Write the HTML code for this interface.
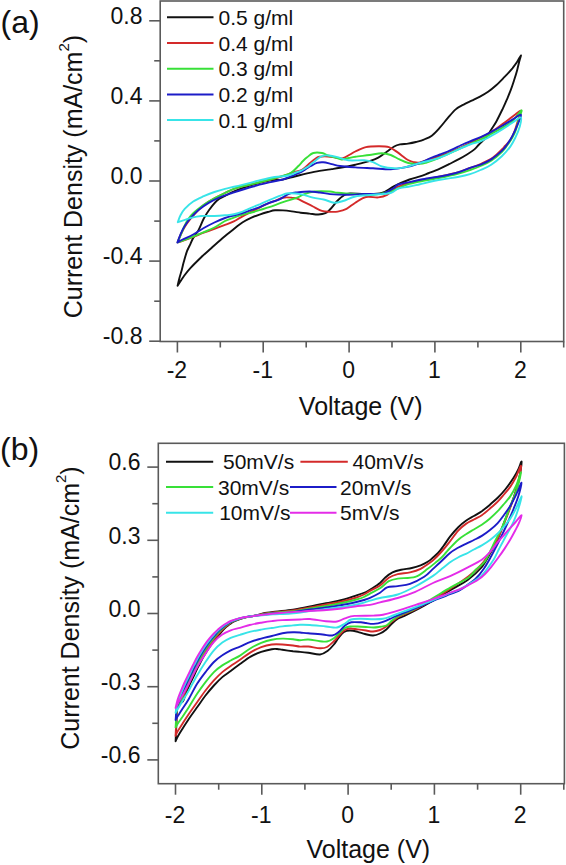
<!DOCTYPE html>
<html><head><meta charset="utf-8"><style>
html,body{margin:0;padding:0;background:#fff;}
body{width:566px;height:865px;overflow:hidden;position:relative;}
svg{position:absolute;left:0;top:0;}
text{font-family:"Liberation Sans",sans-serif;}
</style></head><body>
<svg width="566" height="865" viewBox="0 0 566 865">
<rect width="566" height="865" fill="#fff"/>
<path d="M177.6 285.7 C177.9 284.4 178.8 280.3 179.5 277.7 C180.2 275.1 181.0 272.9 181.7 270.3 C182.4 267.7 182.9 265.0 183.8 261.8 C184.7 258.6 185.9 254.2 187.0 251.2 C188.1 248.2 189.5 246.0 190.5 243.8 C191.5 241.6 191.9 240.3 193.2 238.0 C194.5 235.7 196.7 233.3 198.5 230.1 C200.3 226.8 202.0 221.8 203.8 218.5 C205.6 215.2 206.9 213.0 209.1 210.0 C211.3 207.0 214.4 202.8 217.1 200.5 C219.8 198.2 222.0 197.6 225.0 196.0 C228.0 194.4 230.6 192.8 235.3 190.9 C240.0 189.0 247.1 186.5 253.0 184.7 C258.9 182.9 265.8 181.2 270.7 180.3 C275.6 179.5 278.4 180.2 282.4 179.6 C286.4 179.0 290.6 177.5 294.7 176.5 C298.8 175.5 303.0 174.3 307.1 173.4 C311.2 172.5 315.4 171.6 319.5 170.9 C323.6 170.2 328.4 169.6 331.8 169.1 C335.2 168.6 336.1 168.5 340.0 167.8 C343.9 167.1 350.4 165.8 355.3 164.7 C360.2 163.6 365.7 162.4 369.5 161.2 C373.3 160.0 375.4 159.3 378.3 157.7 C381.2 156.1 384.5 153.4 387.1 151.5 C389.8 149.6 392.1 147.7 394.2 146.5 C396.3 145.3 397.7 144.9 400.0 144.4 C402.3 143.9 405.4 144.0 408.0 143.6 C410.6 143.2 413.2 142.7 415.9 142.0 C418.5 141.3 421.2 140.7 423.9 139.6 C426.5 138.5 429.1 137.7 431.8 135.7 C434.5 133.7 437.2 130.6 439.8 127.7 C442.4 124.8 445.1 121.2 447.7 118.2 C450.3 115.2 453.0 111.7 455.7 109.4 C458.4 107.1 461.0 106.0 463.6 104.6 C466.2 103.1 468.9 102.0 471.6 100.7 C474.3 99.4 477.2 98.1 480.0 96.6 C482.8 95.1 485.4 93.7 488.1 91.8 C490.8 89.9 493.5 87.7 496.2 85.3 C498.9 82.9 501.6 80.0 504.3 77.2 C507.0 74.4 510.2 70.9 512.4 68.3 C514.5 65.7 515.8 63.9 517.2 61.8 C518.6 59.6 520.5 55.7 520.9 55.4 C521.3 55.1 520.2 57.8 519.6 60.2 C519.0 62.6 518.1 66.5 517.2 69.9 C516.3 73.3 515.1 77.1 514.0 80.5 C512.9 83.9 511.9 87.0 510.7 90.2 C509.5 93.4 508.0 96.8 506.7 99.9 C505.4 103.0 504.4 105.2 502.7 108.8 C501.0 112.3 498.4 117.7 496.5 121.2 C494.6 124.7 492.8 127.1 491.2 129.7 C489.6 132.2 488.2 134.8 487.0 136.5 C485.8 138.2 485.4 138.4 484.1 139.7 C482.8 141.0 480.6 142.9 479.0 144.5 C477.4 146.1 476.4 147.7 474.4 149.4 C472.4 151.1 469.6 152.9 467.0 154.5 C464.4 156.1 461.9 157.6 458.9 159.2 C455.9 160.8 452.2 162.6 449.0 164.2 C445.8 165.8 442.7 167.4 439.4 168.9 C436.1 170.4 432.2 171.8 429.0 173.0 C425.8 174.2 423.2 175.3 420.0 176.4 C416.8 177.5 413.8 177.9 409.5 179.5 C405.2 181.1 398.8 183.9 394.2 186.2 C389.6 188.4 386.5 191.7 381.8 193.0 C377.1 194.3 371.3 193.9 366.0 194.0 C360.7 194.1 353.6 193.3 350.0 193.5 C346.4 193.7 346.6 193.8 344.5 195.0 C342.4 196.2 340.1 198.1 337.7 200.5 C335.3 202.9 332.1 207.4 330.0 209.5 C327.9 211.6 327.3 212.4 325.4 213.2 C323.4 214.0 320.9 214.4 318.3 214.5 C315.7 214.6 312.4 213.9 309.5 213.6 C306.6 213.3 303.6 213.1 300.7 212.7 C297.8 212.3 294.8 211.8 291.8 211.4 C288.9 211.0 285.8 210.6 283.0 210.4 C280.2 210.2 277.3 210.1 275.0 210.3 C272.7 210.5 271.6 210.9 269.2 211.6 C266.8 212.3 263.2 213.3 260.3 214.3 C257.4 215.3 254.4 216.3 251.5 217.6 C248.6 218.9 245.8 220.3 242.7 222.3 C239.6 224.3 236.4 227.0 233.0 229.7 C229.6 232.3 225.9 235.2 222.4 238.2 C218.9 241.2 215.3 244.5 211.8 247.7 C208.3 250.9 204.7 253.8 201.2 257.2 C197.7 260.6 193.5 264.7 190.6 267.8 C187.7 270.9 186.2 273.0 184.0 276.0 C181.8 279.0 178.7 284.1 177.6 285.7" stroke="#111111" stroke-width="1.90" fill="none" stroke-linejoin="round" stroke-linecap="round"/>
<path d="M177.7 242.3 C178.2 240.9 179.8 236.6 181.0 234.0 C182.2 231.4 183.5 228.9 185.0 226.5 C186.5 224.1 188.2 221.8 190.0 219.5 C191.8 217.2 193.7 214.9 196.0 212.5 C198.3 210.1 200.7 207.4 203.8 205.0 C206.9 202.6 210.9 200.3 214.4 198.3 C217.9 196.3 221.5 194.7 225.0 193.0 C228.5 191.3 230.6 189.8 235.3 188.3 C240.0 186.8 247.1 185.4 253.0 183.9 C258.9 182.4 266.0 180.7 270.7 179.5 C275.4 178.3 277.5 177.8 281.2 176.6 C284.9 175.4 289.5 173.7 293.0 172.5 C296.5 171.3 299.6 171.1 302.4 169.5 C305.2 167.9 307.9 164.8 310.0 163.0 C312.1 161.2 313.4 160.0 315.0 159.0 C316.6 158.0 317.2 157.2 319.4 156.8 C321.6 156.4 325.2 156.3 328.0 156.5 C330.8 156.7 333.5 157.4 336.0 157.7 C338.5 158.0 340.7 158.7 343.0 158.2 C345.3 157.7 347.9 155.6 350.0 154.5 C352.1 153.4 352.7 152.7 355.3 151.5 C357.9 150.3 362.1 148.0 365.9 147.1 C369.7 146.2 374.5 146.2 378.3 146.2 C382.1 146.2 385.7 146.1 388.9 147.1 C392.1 148.1 395.3 150.8 397.7 152.4 C400.1 154.0 401.3 155.2 403.0 156.5 C404.7 157.8 406.2 159.1 408.0 160.0 C409.8 160.9 411.6 161.7 413.6 162.1 C415.6 162.5 417.3 163.0 420.0 162.5 C422.7 162.0 426.7 160.1 430.0 159.0 C433.3 157.9 435.8 157.5 440.0 156.0 C444.2 154.5 450.2 152.1 455.0 150.0 C459.8 147.9 464.5 145.7 469.0 143.5 C473.5 141.3 478.3 138.9 482.0 137.0 C485.7 135.1 488.8 133.4 491.2 132.0 C493.6 130.6 493.9 130.5 496.5 128.6 C499.1 126.7 503.9 123.1 507.1 120.7 C510.3 118.3 513.3 116.0 515.6 114.3 C517.9 112.6 520.3 110.3 520.9 110.8 C521.5 111.2 520.0 113.8 519.0 117.0 C518.0 120.2 516.4 126.2 515.0 130.0 C513.6 133.8 512.4 136.8 510.7 139.5 C509.0 142.2 506.5 144.3 505.0 146.0 C503.5 147.7 503.8 147.6 501.8 149.5 C499.8 151.4 496.5 155.1 493.0 157.5 C489.5 159.9 484.4 162.2 480.6 164.0 C476.8 165.8 473.8 166.6 470.0 168.0 C466.2 169.4 462.7 171.1 457.7 172.5 C452.7 173.9 446.3 175.2 440.0 176.5 C433.7 177.8 425.3 179.5 420.0 180.6 C414.7 181.7 412.3 182.1 408.3 183.3 C404.3 184.5 399.5 185.8 396.0 187.7 C392.5 189.6 390.1 193.2 387.1 194.8 C384.2 196.4 381.8 197.0 378.3 197.4 C374.8 197.8 369.8 196.1 366.0 197.0 C362.2 197.9 358.6 200.7 355.3 202.7 C352.1 204.7 349.4 207.4 346.5 208.9 C343.6 210.4 340.4 211.1 337.7 211.6 C334.9 212.1 332.6 211.9 330.0 211.8 C327.4 211.7 324.7 211.8 321.9 210.9 C319.1 210.0 315.9 208.0 313.0 206.5 C310.1 205.0 306.8 203.4 304.2 202.1 C301.6 200.8 299.2 199.3 297.1 198.6 C295.0 197.9 294.2 197.8 291.8 197.7 C289.4 197.5 285.9 197.1 283.0 197.7 C280.1 198.3 277.1 200.0 274.2 201.2 C271.2 202.4 268.2 203.4 265.3 204.7 C262.4 206.0 259.4 207.7 256.5 209.2 C253.6 210.7 250.4 212.2 247.7 213.6 C244.9 215.0 242.3 216.5 240.0 217.8 C237.7 219.1 236.3 220.2 233.8 221.4 C231.3 222.6 228.2 223.7 225.0 224.9 C221.8 226.1 217.9 227.5 214.4 228.8 C210.9 230.1 207.3 231.4 203.8 232.7 C200.3 234.0 196.7 235.5 193.2 236.8 C189.7 238.2 185.2 239.9 182.6 240.8 C180.0 241.7 178.5 242.1 177.7 242.3" stroke="#d42a2a" stroke-width="1.90" fill="none" stroke-linejoin="round" stroke-linecap="round"/>
<path d="M177.7 242.3 C178.2 241.0 179.9 237.2 181.0 234.5 C182.1 231.8 183.3 228.5 184.5 226.0 C185.7 223.5 186.5 221.6 187.9 219.5 C189.3 217.4 190.5 215.7 193.2 213.2 C195.8 210.7 200.3 207.2 203.8 204.7 C207.3 202.2 210.9 200.2 214.4 198.3 C217.9 196.4 221.5 194.7 225.0 193.0 C228.5 191.3 230.6 189.8 235.3 188.3 C240.0 186.8 247.2 185.4 253.0 183.9 C258.8 182.4 265.1 180.8 270.0 179.5 C274.9 178.2 278.9 177.0 282.4 175.9 C285.9 174.8 288.3 174.5 291.0 172.8 C293.7 171.2 296.4 168.0 298.4 166.0 C300.4 164.0 301.6 162.4 303.0 161.0 C304.4 159.6 305.4 158.6 307.1 157.3 C308.8 156.0 310.8 153.7 313.3 153.0 C315.8 152.3 319.5 152.6 322.0 153.0 C324.5 153.4 326.1 154.8 328.1 155.5 C330.2 156.2 332.3 156.7 334.3 157.3 C336.3 157.9 338.6 158.7 340.0 159.0 C341.4 159.3 341.5 159.6 343.0 159.4 C344.5 159.2 346.9 158.4 349.0 158.0 C351.1 157.6 351.9 157.3 355.3 156.8 C358.7 156.3 365.1 155.6 369.5 155.0 C373.9 154.4 378.3 153.3 381.8 153.3 C385.3 153.3 387.8 154.0 390.7 155.0 C393.6 156.0 396.6 158.1 399.5 159.4 C402.4 160.7 404.9 162.2 408.3 163.0 C411.7 163.8 417.0 164.0 420.0 163.9 C423.0 163.8 423.2 163.6 426.5 162.5 C429.8 161.4 435.3 159.4 440.0 157.5 C444.7 155.6 449.8 153.2 454.8 151.0 C459.8 148.8 465.7 145.9 470.0 144.0 C474.3 142.1 477.1 141.2 480.6 139.5 C484.1 137.8 487.7 135.8 491.2 133.9 C494.7 132.0 498.3 130.2 501.8 128.1 C505.3 126.0 509.1 124.2 512.4 121.2 C515.7 118.2 520.3 110.7 521.4 110.3 C522.5 109.9 520.0 115.5 519.0 119.0 C518.0 122.5 516.6 127.9 515.5 131.0 C514.4 134.1 513.8 135.1 512.4 137.5 C511.0 139.9 508.9 143.1 507.1 145.5 C505.3 147.9 504.5 149.4 501.8 152.0 C499.1 154.6 494.7 158.5 491.2 160.8 C487.7 163.1 484.1 164.5 480.6 166.0 C477.1 167.5 473.8 168.7 470.0 170.0 C466.2 171.3 462.7 172.5 457.7 173.8 C452.7 175.1 446.3 176.5 440.0 177.8 C433.7 179.1 425.3 180.4 420.0 181.5 C414.7 182.6 413.2 182.6 408.3 184.2 C403.4 185.8 396.6 189.4 390.7 191.2 C384.8 193.0 378.9 194.4 373.0 194.8 C367.1 195.2 361.2 194.2 355.3 193.9 C349.4 193.6 341.9 193.1 337.7 192.7 C333.5 192.3 333.8 191.7 330.0 191.5 C326.2 191.3 319.1 191.1 314.8 191.5 C310.5 191.9 307.1 193.1 304.2 194.1 C301.2 195.1 300.6 196.4 297.1 197.7 C293.6 199.0 287.6 200.5 283.0 202.1 C278.4 203.7 273.0 205.9 269.2 207.2 C265.4 208.5 263.2 209.0 260.3 209.9 C257.4 210.8 254.4 211.7 251.5 212.5 C248.6 213.3 245.6 213.8 242.7 214.7 C239.8 215.5 236.8 216.5 233.8 217.6 C230.9 218.7 228.2 219.3 225.0 221.0 C221.8 222.7 217.9 225.6 214.4 227.5 C210.9 229.4 207.3 230.7 203.8 232.2 C200.3 233.7 196.7 235.1 193.2 236.5 C189.7 237.9 185.2 239.7 182.6 240.7 C180.0 241.7 178.5 242.0 177.7 242.3" stroke="#38e038" stroke-width="1.90" fill="none" stroke-linejoin="round" stroke-linecap="round"/>
<path d="M177.4 242.5 C177.9 241.2 179.3 237.2 180.5 234.4 C181.7 231.6 182.9 228.7 184.7 225.9 C186.5 223.1 188.8 220.1 191.1 217.4 C193.4 214.8 195.5 212.5 198.5 210.0 C201.5 207.5 205.6 204.7 209.1 202.6 C212.6 200.5 215.9 198.9 219.7 197.3 C223.5 195.7 226.4 194.8 232.0 193.0 C237.6 191.2 246.6 188.3 253.0 186.5 C259.4 184.7 265.7 183.3 270.7 182.1 C275.7 180.9 279.5 180.5 283.0 179.5 C286.5 178.5 288.8 177.2 291.8 176.0 C294.8 174.8 298.5 173.4 300.9 172.2 C303.3 171.0 304.4 170.0 306.0 169.0 C307.6 168.0 309.0 167.0 310.8 166.0 C312.6 165.0 314.9 163.5 317.0 162.9 C319.1 162.3 320.7 162.1 323.2 162.3 C325.7 162.5 329.0 163.5 331.8 164.1 C334.6 164.7 336.1 165.4 340.0 166.0 C343.9 166.6 349.8 167.0 355.3 167.4 C360.8 167.8 367.1 168.0 373.0 168.3 C378.9 168.6 385.4 169.3 390.7 169.2 C396.0 169.0 399.9 168.4 404.8 167.4 C409.7 166.4 415.5 164.7 420.0 163.0 C424.5 161.3 428.5 158.9 431.8 157.5 C435.1 156.1 437.4 155.5 440.0 154.5 C442.6 153.5 443.8 153.2 447.7 151.5 C451.6 149.8 459.9 145.7 463.6 144.0 C467.3 142.3 467.2 142.5 470.0 141.3 C472.8 140.2 477.1 138.7 480.6 137.1 C484.1 135.5 487.7 133.7 491.2 131.8 C494.7 130.0 498.3 128.0 501.8 126.0 C505.3 124.0 509.2 121.5 512.4 119.6 C515.6 117.7 520.0 114.0 520.9 114.8 C521.8 115.6 519.1 120.9 517.7 124.4 C516.3 127.9 514.2 132.7 512.4 136.0 C510.6 139.3 508.9 142.0 507.1 144.5 C505.3 147.0 504.5 148.4 501.8 150.9 C499.1 153.4 494.7 157.1 491.2 159.4 C487.7 161.7 484.1 163.3 480.6 164.7 C477.1 166.1 473.8 166.5 470.0 167.8 C466.2 169.1 462.7 171.1 457.7 172.5 C452.7 173.9 445.2 175.5 440.0 176.5 C434.8 177.5 429.8 177.9 426.5 178.5 C423.2 179.1 423.0 179.2 420.0 179.8 C417.0 180.5 411.9 181.6 408.3 182.4 C404.7 183.2 400.7 183.6 398.3 184.5 C395.9 185.4 396.1 186.5 394.2 187.7 C392.3 188.9 389.1 190.9 387.0 191.9 C384.9 192.9 385.6 193.6 381.8 193.9 C378.0 194.2 370.1 193.8 364.2 193.9 C358.3 194.1 352.2 194.8 346.5 194.8 C340.8 194.8 334.4 194.5 330.0 194.1 C325.6 193.7 323.4 192.9 320.0 192.5 C316.6 192.1 313.3 191.5 309.5 191.5 C305.7 191.5 300.6 192.0 297.1 192.4 C293.6 192.8 291.2 192.9 288.3 194.1 C285.4 195.3 282.7 197.9 279.5 199.4 C276.3 200.9 272.4 201.6 269.2 202.8 C266.0 204.0 263.2 205.6 260.3 206.8 C257.4 208.0 254.4 208.9 251.5 209.9 C248.6 210.9 245.6 212.1 242.7 213.0 C239.8 213.9 236.8 214.7 233.8 215.5 C230.9 216.3 228.2 216.8 225.0 218.0 C221.8 219.2 217.9 220.8 214.4 222.5 C210.9 224.2 207.3 226.0 203.8 228.0 C200.3 230.0 196.7 232.6 193.2 234.5 C189.7 236.4 185.2 238.2 182.6 239.5 C180.0 240.8 178.3 242.0 177.4 242.5" stroke="#1c1cc8" stroke-width="1.90" fill="none" stroke-linejoin="round" stroke-linecap="round"/>
<path d="M177.8 222.2 C178.2 221.0 179.3 217.5 180.5 215.3 C181.7 213.1 182.6 211.2 184.7 208.9 C186.8 206.6 190.0 203.6 193.2 201.5 C196.4 199.4 200.3 197.8 203.8 196.2 C207.3 194.6 210.9 193.2 214.4 192.0 C217.9 190.8 221.5 189.7 225.0 188.8 C228.5 187.9 230.6 187.6 235.3 186.5 C240.0 185.4 247.1 183.6 253.0 182.1 C258.9 180.6 264.8 178.8 270.7 177.7 C276.6 176.6 284.1 176.4 288.3 175.5 C292.5 174.6 293.9 173.3 296.0 172.5 C298.1 171.7 299.4 171.6 300.9 170.9 C302.4 170.2 303.6 169.4 305.0 168.5 C306.4 167.6 307.8 166.8 309.6 165.4 C311.4 164.1 313.7 162.0 315.8 160.4 C317.9 158.8 319.7 156.9 322.0 156.1 C324.3 155.3 326.8 155.3 329.4 155.5 C332.0 155.7 334.5 156.4 337.7 157.2 C340.9 158.0 343.9 159.8 348.3 160.3 C352.7 160.8 360.1 160.0 364.2 160.3 C368.3 160.6 370.1 161.1 373.0 162.1 C375.9 163.1 378.3 165.5 381.8 166.5 C385.3 167.5 390.4 168.2 394.2 168.3 C398.0 168.5 400.5 168.3 404.8 167.4 C409.1 166.5 415.8 164.2 420.0 163.0 C424.2 161.8 426.7 161.4 430.0 160.5 C433.3 159.6 435.9 159.1 440.0 157.5 C444.1 155.9 449.8 153.2 454.8 151.0 C459.8 148.8 465.7 146.1 470.0 144.5 C474.3 142.9 477.1 142.7 480.6 141.3 C484.1 139.9 487.7 137.9 491.2 136.0 C494.7 134.1 498.3 131.9 501.8 129.7 C505.3 127.5 509.2 124.8 512.4 122.8 C515.6 120.8 519.7 116.9 520.9 117.5 C522.1 118.1 520.7 123.2 519.8 126.5 C518.9 129.8 517.2 133.8 515.6 137.1 C514.0 140.4 512.6 143.4 510.3 146.6 C508.0 149.8 505.0 153.2 501.8 156.2 C498.6 159.2 494.7 162.4 491.2 164.7 C487.7 167.0 484.1 168.4 480.6 170.0 C477.1 171.6 473.8 173.0 470.0 174.2 C466.2 175.4 462.7 176.1 457.7 177.0 C452.7 177.9 446.3 178.6 440.0 179.8 C433.7 181.0 425.3 183.0 420.0 184.2 C414.7 185.4 411.9 186.1 408.3 186.8 C404.7 187.5 401.2 187.5 398.3 188.5 C395.4 189.5 394.9 191.9 390.7 193.0 C386.5 194.1 378.9 194.2 373.0 194.8 C367.1 195.4 360.3 195.5 355.3 196.5 C350.3 197.5 346.5 200.0 343.0 201.0 C339.5 202.0 337.3 202.9 334.1 202.7 C330.9 202.4 327.1 200.3 323.6 199.5 C320.1 198.7 316.8 198.6 313.0 197.7 C309.2 196.8 304.8 194.8 300.7 194.1 C296.6 193.4 291.8 193.0 288.3 193.3 C284.8 193.6 282.7 194.8 279.5 195.9 C276.3 197.1 272.4 198.8 269.2 200.2 C266.0 201.6 263.2 202.8 260.3 204.1 C257.4 205.3 254.4 206.4 251.5 207.7 C248.6 208.9 245.6 210.5 242.7 211.6 C239.8 212.7 236.8 213.7 233.8 214.3 C230.9 214.9 228.2 215.0 225.0 215.3 C221.8 215.6 218.4 215.9 214.4 216.0 C210.4 216.1 205.1 215.7 201.2 216.0 C197.3 216.3 194.2 217.1 191.1 217.9 C188.0 218.7 184.8 219.9 182.6 220.6 C180.4 221.3 178.6 221.9 177.8 222.2" stroke="#38e4e8" stroke-width="1.90" fill="none" stroke-linejoin="round" stroke-linecap="round"/>
<path d="M175.6 741.2 C175.7 738.4 176.1 730.4 176.4 724.6 C176.7 718.8 176.5 710.4 177.6 706.5 C178.7 702.6 181.6 703.4 183.0 701.2 C184.4 699.1 184.7 696.4 185.9 693.5 C187.1 690.5 188.6 686.8 190.0 683.8 C191.4 680.7 192.9 677.9 194.3 675.0 C195.7 672.0 197.1 669.0 198.5 666.2 C199.9 663.5 201.2 660.8 202.6 658.2 C204.0 655.8 205.4 653.5 206.8 651.2 C208.2 649.0 209.6 646.8 211.0 644.9 C212.4 642.9 213.8 641.1 215.2 639.5 C216.6 637.8 217.9 636.2 219.1 634.7 C220.4 633.2 221.4 631.8 222.6 630.6 C223.8 629.3 225.1 628.0 226.3 626.9 C227.5 625.8 228.7 625.0 229.9 624.1 C231.1 623.2 231.7 622.5 233.5 621.6 C235.3 620.7 238.2 619.6 240.6 618.8 C243.0 618.0 245.4 617.4 247.8 616.9 C250.2 616.4 252.1 616.4 255.0 615.8 C257.9 615.2 262.0 613.6 265.0 613.0 C268.0 612.4 268.7 612.5 273.0 612.0 C277.3 611.5 284.5 610.9 290.7 610.0 C296.9 609.1 304.1 607.5 310.0 606.4 C315.9 605.3 320.6 604.3 325.9 603.2 C331.2 602.1 336.7 601.3 341.8 600.0 C346.9 598.7 352.5 596.7 356.5 595.4 C360.5 594.1 363.4 593.1 366.0 592.0 C368.6 590.9 369.7 590.0 372.0 588.5 C374.3 587.0 377.8 584.8 380.0 583.0 C382.2 581.2 383.2 579.3 385.3 577.5 C387.4 575.7 389.9 573.7 392.5 572.4 C395.1 571.1 398.0 570.4 401.2 569.7 C404.4 569.0 408.6 568.7 411.8 568.0 C415.0 567.3 418.0 566.3 420.6 565.3 C423.2 564.3 425.8 563.0 427.7 561.8 C429.6 560.6 430.5 559.8 432.2 558.3 C433.9 556.8 436.1 555.0 438.0 553.0 C439.9 551.0 441.5 548.7 443.5 546.0 C445.5 543.3 447.6 539.8 450.0 536.7 C452.4 533.6 455.4 530.1 458.0 527.5 C460.6 524.9 463.2 522.7 465.9 520.8 C468.5 518.9 471.2 517.6 473.9 516.0 C476.5 514.4 479.2 513.0 481.8 511.2 C484.4 509.3 487.1 507.1 489.7 504.9 C492.3 502.6 495.0 500.3 497.7 497.7 C500.4 495.1 503.0 492.3 505.6 489.0 C508.2 485.7 511.5 481.1 513.6 477.8 C515.7 474.5 517.1 471.8 518.4 469.1 C519.7 466.5 521.6 459.8 521.6 461.9 C521.6 464.0 519.7 475.8 518.4 481.8 C517.1 487.8 515.7 491.6 513.6 497.7 C511.5 503.8 508.4 511.5 505.7 518.4 C503.0 525.3 500.3 533.1 497.7 539.0 C495.1 544.9 492.6 549.2 489.8 554.0 C487.0 558.8 484.6 563.8 481.0 568.0 C477.4 572.2 473.4 575.7 468.3 579.4 C463.2 583.1 456.6 586.5 450.7 590.0 C444.8 593.5 438.9 597.2 433.0 600.6 C427.1 604.0 420.3 607.8 415.3 610.4 C410.3 613.0 405.9 615.1 403.0 616.5 C400.1 617.9 399.5 617.6 397.7 618.8 C395.9 620.0 393.9 621.7 392.0 623.5 C390.1 625.3 388.3 627.8 386.3 629.5 C384.3 631.2 382.2 632.5 380.0 633.5 C377.8 634.5 375.5 635.4 373.0 635.5 C370.5 635.6 367.6 634.6 365.0 634.0 C362.4 633.4 360.2 632.4 357.7 631.8 C355.2 631.2 352.3 630.5 350.0 630.5 C347.7 630.5 345.9 630.8 344.0 632.0 C342.1 633.2 340.2 635.9 338.5 638.0 C336.8 640.1 335.7 642.3 333.9 644.5 C332.1 646.7 329.8 649.3 327.5 651.0 C325.2 652.7 323.2 654.2 320.0 654.5 C316.8 654.8 311.6 653.1 308.3 652.7 C305.0 652.3 302.6 652.1 300.0 651.9 C297.4 651.7 295.9 651.6 293.0 651.3 C290.1 650.9 285.0 650.2 282.4 649.8 C279.8 649.4 278.9 649.1 277.1 649.0 C275.3 648.9 274.5 648.7 271.8 649.2 C269.1 649.7 264.7 650.7 261.2 651.9 C257.7 653.1 254.1 654.6 250.6 656.6 C247.1 658.6 243.3 661.7 240.0 664.1 C236.7 666.5 233.6 668.8 230.7 671.0 C227.8 673.2 225.1 674.7 222.3 677.1 C219.5 679.5 216.7 682.4 213.9 685.5 C211.1 688.6 208.3 691.9 205.5 695.5 C202.7 699.1 199.9 703.4 197.1 707.3 C194.3 711.2 191.3 715.3 188.8 719.0 C186.3 722.7 183.9 726.5 182.0 729.5 C180.1 732.5 178.6 735.0 177.5 737.0 C176.4 739.0 175.9 740.5 175.6 741.2" stroke="#111111" stroke-width="1.90" fill="none" stroke-linejoin="round" stroke-linecap="round"/>
<path d="M175.6 735.8 C175.7 733.5 176.0 726.8 176.3 721.9 C176.6 717.0 176.4 710.0 177.3 706.5 C178.2 703.0 180.7 703.2 181.9 701.0 C183.2 698.8 183.6 696.1 184.8 693.2 C186.0 690.3 187.5 686.6 188.9 683.5 C190.3 680.4 191.8 677.6 193.2 674.7 C194.6 671.8 196.0 668.8 197.4 666.0 C198.8 663.2 200.1 660.5 201.5 658.0 C202.9 655.5 204.3 653.2 205.7 651.0 C207.1 648.8 208.5 646.6 209.9 644.6 C211.3 642.6 212.7 640.9 214.1 639.2 C215.5 637.5 216.8 635.9 218.1 634.5 C219.3 633.0 220.5 631.6 221.7 630.3 C222.9 629.1 224.3 627.8 225.5 626.7 C226.8 625.7 228.0 624.8 229.2 623.9 C230.5 623.0 231.1 622.4 232.9 621.5 C234.8 620.6 237.8 619.5 240.3 618.7 C242.7 617.9 245.2 617.4 247.7 616.9 C250.2 616.4 252.1 616.4 255.0 615.8 C257.9 615.2 262.0 614.0 265.0 613.5 C268.0 613.0 268.7 613.0 273.0 612.5 C277.3 612.0 284.5 611.5 290.7 610.7 C296.9 609.9 304.1 608.5 310.0 607.5 C315.9 606.5 320.6 605.5 325.9 604.5 C331.2 603.5 336.7 602.7 341.8 601.5 C346.9 600.3 352.8 598.7 356.5 597.5 C360.2 596.3 361.8 595.6 364.0 594.5 C366.2 593.4 367.3 592.3 370.0 590.8 C372.7 589.3 376.9 587.8 380.0 585.6 C383.1 583.4 385.9 579.6 388.8 577.7 C391.8 575.8 394.2 575.0 397.7 574.1 C401.2 573.2 406.2 573.3 410.0 572.4 C413.8 571.5 417.1 570.6 420.6 568.8 C424.1 567.0 428.5 563.8 431.2 561.8 C433.9 559.8 435.0 558.5 437.0 556.5 C439.0 554.5 440.8 552.5 443.0 550.0 C445.2 547.5 447.5 544.6 450.0 541.4 C452.5 538.2 455.4 533.7 458.0 530.8 C460.6 527.9 463.2 525.8 465.9 523.9 C468.5 522.0 471.2 521.0 473.9 519.5 C476.5 518.0 479.1 517.0 481.8 515.2 C484.5 513.4 487.4 510.8 490.0 508.5 C492.6 506.2 495.4 504.0 497.7 501.7 C500.0 499.4 501.9 497.0 504.0 494.5 C506.1 492.0 508.4 489.5 510.4 486.6 C512.4 483.7 514.2 480.4 516.0 477.0 C517.8 473.6 520.7 464.7 521.0 465.9 C521.3 467.1 519.3 478.3 518.0 484.0 C516.7 489.7 515.1 494.0 513.0 500.0 C510.9 506.0 508.1 513.5 505.5 520.0 C502.9 526.5 500.2 533.5 497.5 539.0 C494.8 544.5 492.2 548.7 489.5 553.0 C486.8 557.3 484.5 561.1 481.0 565.0 C477.5 568.9 473.4 572.6 468.3 576.5 C463.2 580.4 456.6 584.6 450.7 588.5 C444.8 592.4 438.9 596.3 433.0 599.8 C427.1 603.3 420.3 607.0 415.3 609.5 C410.3 612.0 405.9 613.5 403.0 614.8 C400.1 616.1 399.5 616.3 397.7 617.4 C395.9 618.5 393.9 620.0 392.0 621.5 C390.1 623.0 388.3 625.1 386.3 626.5 C384.3 627.9 382.2 629.2 380.0 630.0 C377.8 630.8 375.3 631.4 373.0 631.5 C370.7 631.6 368.6 630.9 366.0 630.5 C363.4 630.1 360.4 629.7 357.7 629.4 C355.0 629.1 352.3 628.3 350.0 628.5 C347.7 628.7 345.9 629.2 344.0 630.5 C342.1 631.8 340.2 634.2 338.5 636.0 C336.8 637.8 335.8 639.5 333.9 641.3 C332.0 643.1 329.3 645.8 327.0 647.0 C324.7 648.2 323.1 648.4 320.0 648.3 C316.9 648.2 311.6 646.8 308.3 646.5 C305.0 646.2 302.6 646.8 300.0 646.6 C297.4 646.4 295.9 645.9 293.0 645.5 C290.1 645.1 285.9 644.7 282.4 644.5 C278.9 644.3 275.3 644.1 271.8 644.5 C268.3 644.9 264.7 645.8 261.2 647.1 C257.7 648.4 254.1 650.3 250.6 652.4 C247.1 654.5 243.3 657.5 240.0 659.8 C236.7 662.1 233.6 664.0 230.7 666.0 C227.8 668.0 225.1 669.7 222.3 672.1 C219.5 674.5 216.7 677.3 213.9 680.4 C211.1 683.5 208.3 686.9 205.5 690.5 C202.7 694.1 199.9 698.3 197.1 702.2 C194.3 706.1 191.3 710.3 188.8 714.0 C186.3 717.7 183.9 721.6 182.0 724.5 C180.1 727.4 178.6 729.6 177.5 731.5 C176.4 733.4 175.9 735.1 175.6 735.8" stroke="#d42a2a" stroke-width="1.90" fill="none" stroke-linejoin="round" stroke-linecap="round"/>
<path d="M175.6 727.3 C175.7 725.7 176.0 721.1 176.2 717.6 C176.4 714.2 176.3 709.3 177.1 706.5 C177.8 703.7 179.7 703.0 180.8 700.8 C181.9 698.5 182.5 695.9 183.7 693.0 C184.9 690.0 186.4 686.3 187.8 683.2 C189.2 680.2 190.7 677.4 192.1 674.5 C193.5 671.5 194.9 668.5 196.3 665.8 C197.7 663.0 199.0 660.2 200.4 657.8 C201.8 655.2 203.2 653.0 204.6 650.8 C206.0 648.5 207.4 646.3 208.8 644.4 C210.2 642.4 211.6 640.6 213.0 639.0 C214.4 637.3 215.7 635.7 217.0 634.2 C218.3 632.7 219.5 631.4 220.8 630.1 C222.1 628.9 223.4 627.6 224.7 626.5 C226.0 625.5 227.3 624.6 228.5 623.8 C229.8 622.9 230.5 622.2 232.4 621.4 C234.3 620.5 237.4 619.4 240.0 618.6 C242.5 617.9 245.1 617.3 247.6 616.9 C250.1 616.4 252.1 616.3 255.0 615.8 C257.9 615.3 262.0 614.5 265.0 614.0 C268.0 613.5 268.7 613.4 273.0 613.0 C277.3 612.6 284.5 612.2 290.7 611.5 C296.9 610.8 304.1 609.4 310.0 608.5 C315.9 607.6 320.6 606.9 325.9 606.0 C331.2 605.1 336.7 604.1 341.8 603.0 C346.9 601.9 352.8 600.5 356.5 599.5 C360.2 598.5 361.8 598.0 364.0 597.0 C366.2 596.0 367.3 595.1 370.0 593.6 C372.7 592.1 376.9 590.4 380.0 588.3 C383.1 586.2 385.9 582.8 388.8 581.2 C391.8 579.6 393.3 579.3 397.7 578.6 C402.1 577.9 410.3 578.4 415.3 576.8 C420.3 575.2 424.2 571.3 427.7 568.8 C431.2 566.3 434.3 563.6 436.5 561.8 C438.7 560.0 439.4 559.5 441.0 558.0 C442.6 556.5 444.5 554.2 446.0 552.5 C447.5 550.8 448.0 550.1 450.0 548.0 C452.0 545.9 455.4 542.3 458.0 540.0 C460.6 537.7 463.2 536.0 465.9 534.3 C468.5 532.5 471.2 531.1 473.9 529.5 C476.5 527.9 479.1 526.5 481.8 524.7 C484.5 522.9 487.4 520.8 490.0 518.5 C492.6 516.2 495.4 513.6 497.7 511.2 C500.0 508.8 501.9 506.5 504.0 504.0 C506.1 501.5 508.4 499.1 510.4 496.1 C512.4 493.1 514.2 490.0 516.0 486.0 C517.8 482.0 520.9 471.7 521.0 472.3 C521.1 472.9 518.6 484.2 516.8 489.8 C515.0 495.4 512.8 499.6 510.4 505.7 C508.0 511.8 505.1 520.2 502.5 526.3 C499.9 532.4 497.4 536.4 494.5 542.2 C491.6 548.0 488.1 556.8 485.0 561.3 C481.9 565.8 478.8 566.8 476.0 569.5 C473.2 572.2 472.5 574.7 468.3 577.7 C464.1 580.7 456.6 584.0 450.7 587.4 C444.8 590.8 438.9 594.5 433.0 598.0 C427.1 601.5 420.3 605.9 415.3 608.6 C410.3 611.3 405.9 612.7 403.0 614.0 C400.1 615.3 399.5 615.4 397.7 616.5 C395.9 617.6 393.9 619.0 392.0 620.5 C390.1 622.0 388.3 624.5 386.3 625.5 C384.3 626.5 382.1 626.5 380.0 626.8 C377.9 627.1 375.9 627.5 373.6 627.5 C371.3 627.5 368.6 627.2 366.0 627.0 C363.4 626.8 360.4 626.6 357.7 626.5 C355.0 626.4 352.3 626.2 350.0 626.5 C347.7 626.8 345.9 627.2 344.0 628.5 C342.1 629.8 340.2 632.4 338.5 634.0 C336.8 635.6 335.8 637.0 333.9 638.2 C332.0 639.5 329.3 641.0 327.0 641.5 C324.7 642.0 323.1 641.5 320.0 641.2 C316.9 640.9 311.6 639.7 308.3 639.5 C305.0 639.3 302.6 640.2 300.0 640.2 C297.4 640.2 295.9 639.5 293.0 639.2 C290.1 638.9 285.9 638.5 282.4 638.6 C278.9 638.7 275.3 639.0 271.8 639.7 C268.3 640.4 264.7 641.5 261.2 642.9 C257.7 644.3 254.1 646.1 250.6 648.2 C247.1 650.3 243.3 653.6 240.0 655.6 C236.7 657.6 233.6 658.9 230.7 660.5 C227.8 662.1 225.1 663.5 222.3 665.4 C219.5 667.3 216.7 669.3 213.9 672.1 C211.1 674.9 208.3 678.5 205.5 682.1 C202.7 685.7 199.9 689.6 197.1 693.8 C194.3 698.0 191.3 703.3 188.8 707.3 C186.3 711.2 183.9 714.7 182.0 717.5 C180.1 720.3 178.6 722.4 177.5 724.0 C176.4 725.6 175.9 726.8 175.6 727.3" stroke="#38e038" stroke-width="1.90" fill="none" stroke-linejoin="round" stroke-linecap="round"/>
<path d="M175.6 720.0 C175.7 719.0 175.9 716.2 176.1 714.0 C176.3 711.8 176.2 708.8 176.8 706.5 C177.4 704.2 178.7 702.8 179.7 700.5 C180.7 698.2 181.4 695.6 182.6 692.7 C183.8 689.8 185.3 686.1 186.7 683.0 C188.1 679.9 189.6 677.1 191.0 674.2 C192.4 671.3 193.8 668.3 195.2 665.5 C196.6 662.7 197.9 660.0 199.3 657.5 C200.7 655.0 202.1 652.7 203.5 650.5 C204.9 648.3 206.3 646.1 207.7 644.1 C209.1 642.1 210.5 640.4 211.9 638.7 C213.3 637.0 214.7 635.4 216.0 634.0 C217.3 632.5 218.5 631.2 219.9 629.9 C221.2 628.7 222.6 627.4 223.9 626.4 C225.2 625.3 226.5 624.5 227.9 623.6 C229.2 622.8 229.9 622.1 231.8 621.3 C233.8 620.4 237.0 619.3 239.6 618.5 C242.3 617.8 245.0 617.3 247.6 616.8 C250.1 616.4 252.1 616.2 255.0 615.8 C257.9 615.4 262.0 614.9 265.0 614.5 C268.0 614.1 268.7 613.8 273.0 613.5 C277.3 613.2 284.5 613.2 290.7 612.5 C296.9 611.8 304.1 610.3 310.0 609.5 C315.9 608.7 320.6 608.2 325.9 607.5 C331.2 606.8 336.7 605.9 341.8 605.0 C346.9 604.1 352.8 602.8 356.5 602.0 C360.2 601.2 361.8 600.7 364.0 600.0 C366.2 599.3 367.3 599.0 370.0 597.8 C372.7 596.6 377.1 594.4 380.0 592.7 C382.9 591.0 384.2 588.5 387.1 587.4 C390.1 586.3 393.9 586.7 397.7 586.1 C401.5 585.5 405.6 585.5 410.0 583.9 C414.4 582.3 420.5 579.2 424.2 576.8 C427.9 574.4 429.6 572.0 432.2 569.6 C434.8 567.2 437.0 565.3 440.0 562.5 C443.0 559.7 447.0 555.5 450.0 553.0 C453.0 550.5 455.4 549.3 458.0 547.8 C460.6 546.3 463.2 545.1 465.9 543.8 C468.5 542.5 471.2 541.3 473.9 540.0 C476.5 538.7 479.1 537.6 481.8 535.9 C484.5 534.2 487.4 532.1 490.0 530.0 C492.6 527.9 495.4 525.6 497.7 523.1 C500.0 520.6 501.9 517.9 504.0 515.0 C506.1 512.1 508.4 509.0 510.4 505.7 C512.4 502.4 514.1 498.9 516.0 495.0 C517.9 491.1 521.2 482.4 521.6 482.6 C522.0 482.8 519.7 491.7 518.4 496.1 C517.1 500.5 515.3 504.5 513.6 508.8 C511.9 513.1 509.9 517.6 508.0 522.0 C506.1 526.4 504.0 530.8 502.0 535.0 C500.0 539.2 497.8 543.5 496.0 547.0 C494.2 550.5 493.3 552.4 491.3 556.0 C489.3 559.6 486.6 564.7 484.0 568.5 C481.4 572.3 478.1 576.3 475.4 579.0 C472.7 581.7 470.6 582.6 468.0 584.5 C465.4 586.4 463.2 588.4 459.5 590.3 C455.8 592.2 450.4 594.0 446.0 595.8 C441.6 597.5 437.3 599.0 433.0 600.8 C428.7 602.5 424.4 604.5 420.0 606.3 C415.6 608.1 411.0 609.9 406.5 611.8 C402.0 613.7 396.9 615.8 393.0 617.5 C389.1 619.2 386.2 620.7 383.0 621.8 C379.8 622.9 376.4 623.7 373.6 623.9 C370.8 624.1 368.1 623.3 366.0 623.0 C363.9 622.7 363.3 622.4 360.9 622.3 C358.4 622.2 353.9 621.8 351.3 622.3 C348.7 622.8 347.1 623.8 345.0 625.4 C342.9 627.0 340.7 630.3 338.6 632.0 C336.5 633.7 335.0 635.1 332.3 635.5 C329.6 635.9 326.7 634.9 322.7 634.5 C318.7 634.1 312.1 633.6 308.3 633.3 C304.5 633.0 302.6 632.7 300.0 632.5 C297.4 632.3 295.9 632.2 293.0 632.3 C290.1 632.4 285.9 632.7 282.4 633.3 C278.9 633.9 275.3 635.1 271.8 636.0 C268.3 636.9 264.7 637.6 261.2 638.6 C257.7 639.6 254.1 640.5 250.6 641.8 C247.1 643.1 243.3 645.2 240.0 646.6 C236.7 648.0 233.6 648.8 230.7 650.3 C227.8 651.8 225.1 653.3 222.3 655.3 C219.5 657.2 216.7 659.2 213.9 662.0 C211.1 664.8 208.3 668.5 205.5 672.1 C202.7 675.7 199.9 679.3 197.1 683.8 C194.3 688.3 191.3 694.6 188.8 698.9 C186.3 703.2 183.9 706.6 182.0 709.5 C180.1 712.4 178.6 714.8 177.5 716.5 C176.4 718.2 175.9 719.4 175.6 720.0" stroke="#1c1cc8" stroke-width="1.90" fill="none" stroke-linejoin="round" stroke-linecap="round"/>
<path d="M175.6 712.7 C175.7 712.3 175.8 711.4 176.0 710.4 C176.2 709.3 176.1 708.2 176.6 706.5 C177.0 704.8 177.8 702.6 178.6 700.2 C179.4 697.9 180.3 695.4 181.5 692.5 C182.7 689.5 184.2 685.8 185.6 682.8 C187.0 679.7 188.5 676.9 189.9 674.0 C191.3 671.0 192.7 668.0 194.1 665.2 C195.5 662.5 196.8 659.8 198.2 657.2 C199.6 654.8 201.0 652.5 202.4 650.2 C203.8 648.0 205.2 645.8 206.6 643.9 C208.0 641.9 209.4 640.1 210.8 638.5 C212.2 636.8 213.6 635.2 214.9 633.7 C216.3 632.3 217.6 631.0 218.9 629.7 C220.3 628.5 221.7 627.2 223.1 626.2 C224.5 625.1 225.8 624.3 227.2 623.5 C228.5 622.6 229.2 622.0 231.3 621.1 C233.3 620.3 236.6 619.2 239.3 618.5 C242.0 617.8 244.9 617.3 247.5 616.8 C250.1 616.4 252.1 616.1 255.0 615.8 C257.9 615.5 262.0 615.2 265.0 615.0 C268.0 614.8 268.7 614.5 273.0 614.3 C277.3 614.0 284.5 614.0 290.7 613.5 C296.9 613.0 304.1 611.8 310.0 611.0 C315.9 610.2 320.6 609.7 325.9 609.0 C331.2 608.3 336.7 607.8 341.8 607.0 C346.9 606.2 351.8 605.5 356.5 604.5 C361.2 603.5 366.1 601.8 370.0 600.7 C373.9 599.6 375.4 599.0 380.0 598.0 C384.6 597.0 391.8 596.4 397.7 594.5 C403.6 592.6 409.4 589.6 415.3 586.5 C421.2 583.4 428.7 578.7 433.0 575.9 C437.3 573.1 438.1 571.8 441.0 569.5 C443.9 567.2 447.7 564.0 450.5 562.0 C453.3 560.0 455.4 558.9 458.0 557.5 C460.6 556.1 463.2 555.1 465.9 553.8 C468.5 552.5 471.2 550.9 473.9 549.5 C476.5 548.1 479.1 547.0 481.8 545.4 C484.5 543.8 487.4 542.0 490.0 540.0 C492.6 538.0 495.4 535.8 497.7 533.5 C500.0 531.2 501.9 529.0 504.0 526.5 C506.1 524.0 508.4 521.4 510.4 518.4 C512.4 515.4 514.1 512.2 516.0 508.5 C517.9 504.8 521.2 496.1 521.6 496.1 C522.0 496.2 519.7 504.6 518.4 508.8 C517.1 513.0 515.2 518.0 513.6 521.6 C512.0 525.2 510.5 527.7 509.0 530.5 C507.5 533.3 506.3 535.4 504.6 538.5 C502.9 541.6 500.8 545.6 499.0 549.0 C497.2 552.4 496.0 555.7 494.0 559.0 C492.0 562.3 489.2 566.1 487.0 569.0 C484.8 571.9 483.5 574.1 480.7 576.5 C477.9 578.9 473.5 581.4 470.0 583.5 C466.5 585.6 463.5 587.4 459.5 589.3 C455.5 591.2 450.4 593.0 446.0 594.8 C441.6 596.6 437.3 598.2 433.0 600.0 C428.7 601.8 424.4 603.5 420.0 605.3 C415.6 607.0 411.0 608.8 406.5 610.5 C402.0 612.2 396.9 614.1 393.0 615.5 C389.1 616.9 386.2 618.2 383.0 618.8 C379.8 619.4 377.3 619.3 373.6 619.3 C369.9 619.3 364.7 618.8 360.9 618.8 C357.1 618.8 353.6 618.7 351.0 619.5 C348.4 620.3 347.3 622.2 345.0 623.5 C342.7 624.8 340.2 627.0 337.0 627.5 C333.8 628.0 330.4 626.9 325.9 626.5 C321.4 626.1 314.3 625.3 310.0 625.0 C305.7 624.7 302.8 624.7 300.0 624.8 C297.2 624.9 295.9 625.1 293.0 625.4 C290.1 625.7 285.9 626.0 282.4 626.4 C278.9 626.8 275.3 627.5 271.8 628.0 C268.3 628.5 264.7 629.0 261.2 629.6 C257.7 630.2 254.1 630.8 250.6 631.7 C247.1 632.6 243.3 633.8 240.0 634.8 C236.7 635.8 233.6 636.5 230.7 637.8 C227.8 639.1 225.1 640.4 222.3 642.5 C219.5 644.6 216.7 647.0 213.9 650.3 C211.1 653.5 208.3 657.8 205.5 662.0 C202.7 666.2 199.9 670.6 197.1 675.4 C194.3 680.1 191.3 686.1 188.8 690.5 C186.3 694.9 183.9 698.8 182.0 702.0 C180.1 705.2 178.6 707.7 177.5 709.5 C176.4 711.3 175.9 712.2 175.6 712.7" stroke="#38e4e8" stroke-width="1.90" fill="none" stroke-linejoin="round" stroke-linecap="round"/>
<path d="M175.6 707.9 C175.9 706.6 176.7 702.6 177.5 700.0 C178.3 697.4 179.2 695.1 180.4 692.2 C181.6 689.3 183.1 685.6 184.5 682.5 C185.9 679.4 187.4 676.6 188.8 673.7 C190.2 670.8 191.6 667.8 193.0 665.0 C194.4 662.2 195.7 659.5 197.1 657.0 C198.5 654.5 199.9 652.2 201.3 650.0 C202.7 647.8 204.1 645.6 205.5 643.6 C206.9 641.6 208.3 639.9 209.7 638.2 C211.1 636.5 212.5 635.0 213.9 633.5 C215.3 632.0 216.6 630.8 218.0 629.5 C219.4 628.2 220.9 627.0 222.3 626.0 C223.7 625.0 225.1 624.1 226.5 623.3 C227.9 622.5 228.6 621.8 230.7 621.0 C232.8 620.2 236.2 619.1 239.0 618.4 C241.8 617.7 244.7 617.2 247.4 616.8 C250.1 616.4 252.7 616.1 255.0 615.8 C257.3 615.5 258.4 615.3 261.2 615.0 C264.0 614.7 268.3 614.2 271.8 613.8 C275.3 613.4 279.2 613.0 282.4 612.7 C285.5 612.4 287.8 612.4 290.7 612.2 C293.6 612.0 297.1 611.8 300.0 611.6 C302.9 611.4 304.4 611.2 308.3 611.0 C312.2 610.8 318.0 610.7 323.6 610.3 C329.2 609.9 336.1 609.2 341.8 608.5 C347.5 607.8 353.0 606.6 357.7 606.0 C362.4 605.4 366.3 605.5 370.0 604.9 C373.7 604.3 375.4 603.5 380.0 602.4 C384.6 601.2 391.8 599.8 397.7 598.0 C403.6 596.2 409.4 594.3 415.3 591.8 C421.2 589.3 427.1 585.6 433.0 583.0 C438.9 580.4 444.8 578.5 450.7 575.9 C456.6 573.2 463.1 569.8 468.3 567.1 C473.5 564.4 478.2 562.2 481.8 559.7 C485.4 557.2 487.4 554.9 490.0 552.0 C492.6 549.1 495.4 545.0 497.7 542.2 C500.0 539.4 501.9 537.4 504.0 535.0 C506.1 532.6 508.4 530.1 510.4 527.9 C512.4 525.6 514.1 523.6 516.0 521.5 C517.9 519.4 521.2 514.8 521.6 515.2 C522.0 515.6 519.6 521.5 518.5 524.0 C517.4 526.5 516.6 527.8 515.2 530.5 C513.8 533.2 511.8 537.0 510.0 540.0 C508.2 543.0 506.6 545.6 504.6 548.6 C502.6 551.6 500.2 555.0 498.0 558.0 C495.8 561.0 493.5 564.1 491.3 566.8 C489.1 569.5 487.2 571.8 485.0 574.0 C482.8 576.2 480.8 577.9 478.0 579.8 C475.2 581.7 471.1 583.7 468.0 585.3 C464.9 586.9 463.2 587.8 459.5 589.3 C455.8 590.8 450.4 592.6 446.0 594.3 C441.6 595.9 437.3 597.7 433.0 599.2 C428.7 600.7 424.4 602.1 420.0 603.5 C415.6 604.9 411.0 606.3 406.5 607.8 C402.0 609.2 396.9 611.0 393.0 612.2 C389.1 613.4 386.2 614.2 383.0 614.8 C379.8 615.4 378.4 615.4 373.6 615.6 C368.9 615.8 359.3 615.5 354.5 615.9 C349.7 616.3 347.9 617.4 345.0 618.3 C342.1 619.2 340.2 621.0 337.0 621.5 C333.8 622.0 330.4 621.7 325.9 621.3 C321.4 620.9 314.3 619.3 310.0 619.0 C305.7 618.7 304.6 619.3 300.0 619.5 C295.4 619.7 287.1 619.8 282.4 620.1 C277.7 620.4 275.3 620.7 271.8 621.1 C268.3 621.5 264.7 622.1 261.2 622.7 C257.7 623.3 254.1 623.9 250.6 624.8 C247.1 625.6 243.3 626.9 240.0 627.8 C236.7 628.7 233.6 629.2 230.7 630.3 C227.8 631.4 225.1 632.6 222.3 634.5 C219.5 636.4 216.7 638.7 213.9 641.9 C211.1 645.1 208.3 649.4 205.5 653.6 C202.7 657.8 199.9 662.0 197.1 667.0 C194.3 672.0 191.3 679.0 188.8 683.8 C186.3 688.6 183.9 692.6 182.0 696.0 C180.1 699.4 178.6 702.0 177.5 704.0 C176.4 706.0 175.9 707.2 175.6 707.9" stroke="#e42ce8" stroke-width="1.90" fill="none" stroke-linejoin="round" stroke-linecap="round"/>
<rect x="160.2" y="1.0" width="403.5" height="340.5" fill="none" stroke="#5a5a5a" stroke-width="1.6"/>
<line x1="149.2" y1="341.2" x2="160.2" y2="341.2" stroke="#5a5a5a" stroke-width="1.60"/>
<text x="142.5" y="344.4" font-size="23.0" text-anchor="end" fill="#111" >-0.8</text>
<line x1="154.2" y1="301.2" x2="160.2" y2="301.2" stroke="#5a5a5a" stroke-width="1.60"/>
<line x1="149.2" y1="261.1" x2="160.2" y2="261.1" stroke="#5a5a5a" stroke-width="1.60"/>
<text x="142.5" y="264.3" font-size="23.0" text-anchor="end" fill="#111" >-0.4</text>
<line x1="154.2" y1="221.1" x2="160.2" y2="221.1" stroke="#5a5a5a" stroke-width="1.60"/>
<line x1="149.2" y1="181.0" x2="160.2" y2="181.0" stroke="#5a5a5a" stroke-width="1.60"/>
<text x="142.5" y="184.2" font-size="23.0" text-anchor="end" fill="#111" >0.0</text>
<line x1="154.2" y1="140.9" x2="160.2" y2="140.9" stroke="#5a5a5a" stroke-width="1.60"/>
<line x1="149.2" y1="100.9" x2="160.2" y2="100.9" stroke="#5a5a5a" stroke-width="1.60"/>
<text x="142.5" y="104.1" font-size="23.0" text-anchor="end" fill="#111" >0.4</text>
<line x1="154.2" y1="60.8" x2="160.2" y2="60.8" stroke="#5a5a5a" stroke-width="1.60"/>
<line x1="149.2" y1="20.8" x2="160.2" y2="20.8" stroke="#5a5a5a" stroke-width="1.60"/>
<text x="142.5" y="24.0" font-size="23.0" text-anchor="end" fill="#111" >0.8</text>
<line x1="177.4" y1="341.5" x2="177.4" y2="352.5" stroke="#5a5a5a" stroke-width="1.60"/>
<text x="176.9" y="377.5" font-size="23.0" text-anchor="middle" fill="#111" >-2</text>
<line x1="220.3" y1="341.5" x2="220.3" y2="347.5" stroke="#5a5a5a" stroke-width="1.60"/>
<line x1="263.2" y1="341.5" x2="263.2" y2="352.5" stroke="#5a5a5a" stroke-width="1.60"/>
<text x="262.8" y="377.5" font-size="23.0" text-anchor="middle" fill="#111" >-1</text>
<line x1="306.2" y1="341.5" x2="306.2" y2="347.5" stroke="#5a5a5a" stroke-width="1.60"/>
<line x1="349.1" y1="341.5" x2="349.1" y2="352.5" stroke="#5a5a5a" stroke-width="1.60"/>
<text x="348.6" y="377.5" font-size="23.0" text-anchor="middle" fill="#111" >0</text>
<line x1="392.0" y1="341.5" x2="392.0" y2="347.5" stroke="#5a5a5a" stroke-width="1.60"/>
<line x1="434.9" y1="341.5" x2="434.9" y2="352.5" stroke="#5a5a5a" stroke-width="1.60"/>
<text x="434.4" y="377.5" font-size="23.0" text-anchor="middle" fill="#111" >1</text>
<line x1="477.9" y1="341.5" x2="477.9" y2="347.5" stroke="#5a5a5a" stroke-width="1.60"/>
<line x1="520.8" y1="341.5" x2="520.8" y2="352.5" stroke="#5a5a5a" stroke-width="1.60"/>
<text x="520.3" y="377.5" font-size="23.0" text-anchor="middle" fill="#111" >2</text>
<line x1="563.7" y1="341.5" x2="563.7" y2="347.5" stroke="#5a5a5a" stroke-width="1.60"/>
<text x="360.7" y="414.5" font-size="25.0" text-anchor="middle" fill="#111" >Voltage (V)</text>
<text x="0.0" y="0.0" font-size="25.0" text-anchor="middle" fill="#111" transform="translate(81.5,176.6) rotate(-90)">Current Density (mA/cm<tspan font-size="15" dy="-13">2</tspan><tspan dy="13">)</tspan></text>
<text x="0.5" y="33.0" font-size="32.0" text-anchor="start" fill="#111" >(a)</text>
<line x1="167.0" y1="17.3" x2="213.5" y2="17.3" stroke="#111111" stroke-width="2.00"/>
<text x="218.5" y="24.8" font-size="21.0" text-anchor="start" fill="#111" >0.5 g/ml</text>
<line x1="167.0" y1="43.0" x2="213.5" y2="43.0" stroke="#d42a2a" stroke-width="2.00"/>
<text x="218.5" y="50.5" font-size="21.0" text-anchor="start" fill="#111" >0.4 g/ml</text>
<line x1="167.0" y1="68.7" x2="213.5" y2="68.7" stroke="#38e038" stroke-width="2.00"/>
<text x="218.5" y="76.2" font-size="21.0" text-anchor="start" fill="#111" >0.3 g/ml</text>
<line x1="167.0" y1="94.4" x2="213.5" y2="94.4" stroke="#1c1cc8" stroke-width="2.00"/>
<text x="218.5" y="101.9" font-size="21.0" text-anchor="start" fill="#111" >0.2 g/ml</text>
<line x1="167.0" y1="120.1" x2="213.5" y2="120.1" stroke="#38e4e8" stroke-width="2.00"/>
<text x="218.5" y="127.6" font-size="21.0" text-anchor="start" fill="#111" >0.1 g/ml</text>
<rect x="158.3" y="443.3" width="406.1" height="340.4" fill="none" stroke="#5a5a5a" stroke-width="1.6"/>
<line x1="147.3" y1="759.9" x2="158.3" y2="759.9" stroke="#5a5a5a" stroke-width="1.60"/>
<text x="140.5" y="763.1" font-size="23.0" text-anchor="end" fill="#111" >-0.6</text>
<line x1="152.3" y1="723.3" x2="158.3" y2="723.3" stroke="#5a5a5a" stroke-width="1.60"/>
<line x1="147.3" y1="686.7" x2="158.3" y2="686.7" stroke="#5a5a5a" stroke-width="1.60"/>
<text x="140.5" y="689.9" font-size="23.0" text-anchor="end" fill="#111" >-0.3</text>
<line x1="152.3" y1="650.1" x2="158.3" y2="650.1" stroke="#5a5a5a" stroke-width="1.60"/>
<line x1="147.3" y1="613.5" x2="158.3" y2="613.5" stroke="#5a5a5a" stroke-width="1.60"/>
<text x="140.5" y="616.7" font-size="23.0" text-anchor="end" fill="#111" >0.0</text>
<line x1="152.3" y1="576.9" x2="158.3" y2="576.9" stroke="#5a5a5a" stroke-width="1.60"/>
<line x1="147.3" y1="540.3" x2="158.3" y2="540.3" stroke="#5a5a5a" stroke-width="1.60"/>
<text x="140.5" y="543.5" font-size="23.0" text-anchor="end" fill="#111" >0.3</text>
<line x1="152.3" y1="503.7" x2="158.3" y2="503.7" stroke="#5a5a5a" stroke-width="1.60"/>
<line x1="147.3" y1="467.1" x2="158.3" y2="467.1" stroke="#5a5a5a" stroke-width="1.60"/>
<text x="140.5" y="470.3" font-size="23.0" text-anchor="end" fill="#111" >0.6</text>
<line x1="175.5" y1="783.7" x2="175.5" y2="794.7" stroke="#5a5a5a" stroke-width="1.60"/>
<text x="175.0" y="822.5" font-size="23.0" text-anchor="middle" fill="#111" >-2</text>
<line x1="218.7" y1="783.7" x2="218.7" y2="789.7" stroke="#5a5a5a" stroke-width="1.60"/>
<line x1="261.8" y1="783.7" x2="261.8" y2="794.7" stroke="#5a5a5a" stroke-width="1.60"/>
<text x="261.3" y="822.5" font-size="23.0" text-anchor="middle" fill="#111" >-1</text>
<line x1="304.9" y1="783.7" x2="304.9" y2="789.7" stroke="#5a5a5a" stroke-width="1.60"/>
<line x1="348.1" y1="783.7" x2="348.1" y2="794.7" stroke="#5a5a5a" stroke-width="1.60"/>
<text x="347.6" y="822.5" font-size="23.0" text-anchor="middle" fill="#111" >0</text>
<line x1="391.2" y1="783.7" x2="391.2" y2="789.7" stroke="#5a5a5a" stroke-width="1.60"/>
<line x1="434.4" y1="783.7" x2="434.4" y2="794.7" stroke="#5a5a5a" stroke-width="1.60"/>
<text x="433.9" y="822.5" font-size="23.0" text-anchor="middle" fill="#111" >1</text>
<line x1="477.6" y1="783.7" x2="477.6" y2="789.7" stroke="#5a5a5a" stroke-width="1.60"/>
<line x1="520.7" y1="783.7" x2="520.7" y2="794.7" stroke="#5a5a5a" stroke-width="1.60"/>
<text x="520.2" y="822.5" font-size="23.0" text-anchor="middle" fill="#111" >2</text>
<line x1="563.8" y1="783.7" x2="563.8" y2="789.7" stroke="#5a5a5a" stroke-width="1.60"/>
<text x="368.3" y="858.0" font-size="25.0" text-anchor="middle" fill="#111" >Voltage (V)</text>
<text x="0.0" y="0.0" font-size="25.0" text-anchor="middle" fill="#111" transform="translate(79,608) rotate(-90)">Current Density (mA/cm<tspan font-size="15" dy="-13">2</tspan><tspan dy="13">)</tspan></text>
<text x="0.0" y="459.5" font-size="32.0" text-anchor="start" fill="#111" >(b)</text>
<line x1="166.0" y1="461.8" x2="213.2" y2="461.8" stroke="#111111" stroke-width="2.00"/>
<text x="223.0" y="469.3" font-size="21.0" text-anchor="start" fill="#111" >50mV/s</text>
<line x1="300.4" y1="461.8" x2="347.8" y2="461.8" stroke="#d42a2a" stroke-width="2.00"/>
<text x="352.5" y="469.3" font-size="21.0" text-anchor="start" fill="#111" >40mV/s</text>
<line x1="166.0" y1="487.1" x2="213.2" y2="487.1" stroke="#38e038" stroke-width="2.00"/>
<text x="218.0" y="494.6" font-size="21.0" text-anchor="start" fill="#111" >30mV/s</text>
<line x1="290.0" y1="487.1" x2="336.5" y2="487.1" stroke="#1c1cc8" stroke-width="2.00"/>
<text x="340.1" y="494.6" font-size="21.0" text-anchor="start" fill="#111" >20mV/s</text>
<line x1="166.0" y1="512.8" x2="213.2" y2="512.8" stroke="#38e4e8" stroke-width="2.00"/>
<text x="219.2" y="520.3" font-size="21.0" text-anchor="start" fill="#111" >10mV/s</text>
<line x1="290.0" y1="512.8" x2="336.5" y2="512.8" stroke="#e42ce8" stroke-width="2.00"/>
<text x="340.1" y="520.3" font-size="21.0" text-anchor="start" fill="#111" >5mV/s</text>
</svg>
</body></html>
